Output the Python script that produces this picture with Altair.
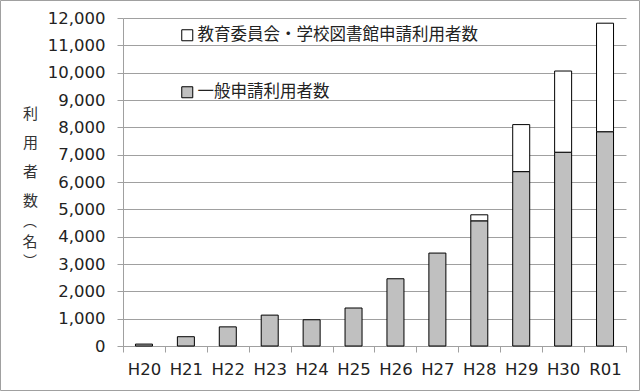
import altair as alt
import pandas as pd

years = ["H20", "H21", "H22", "H23", "H24", "H25", "H26", "H27", "H28", "H29", "H30", "R01"]
general = [70, 340, 700, 1130, 960, 1390, 2460, 3400, 4580, 6380, 7090, 7840]
edu = [0, 0, 0, 0, 0, 0, 0, 0, 220, 1720, 2970, 3970]

s_edu = "教育委員会・学校図書館申請利用者数"
s_gen = "一般申請利用者数"
title_main = ["利", "用", "者", "数"]
title_unit = ["︵", "名", "︶"]

rows = []
for y, g, e in zip(years, general, edu):
    rows.append({"year": y, "series": s_gen, "value": g, "ord": 0})
    if e > 0:
        rows.append({"year": y, "series": s_edu, "value": e, "ord": 1})
df = pd.DataFrame(rows)

num_font = "Verdana, DejaVu Sans"
jp_font = "Noto Sans CJK JP"

bars = alt.Chart(df).mark_bar(size=17, stroke="black", strokeWidth=1).encode(
    x=alt.X("year:N", sort=years, title=None,
            scale=alt.Scale(paddingInner=0, paddingOuter=0),
            axis=alt.Axis(labelAngle=0, tickBand="extent", tickSize=6,
                          tickColor="#A0A0A0", domainColor="#A0A0A0",
                          labelFont=num_font, labelFontSize=16.5, labelColor="#222222",
                          labelPadding=9, grid=False)),
    y=alt.Y("value:Q", stack="zero",
            scale=alt.Scale(domain=[0, 12000], nice=False),
            title=title_main,
            axis=alt.Axis(values=list(range(0, 12001, 1000)), format=",d",
                          tickSize=6, tickColor="#A0A0A0", domainColor="#A0A0A0",
                          gridColor="#A0A0A0", labelFont=num_font, labelFontSize=16.5,
                          labelColor="#222222", labelPadding=12,
                          titleAngle=0, titleX=-93, titleY=88, titleBaseline="top",
                          titleAlign="center", titleFont=jp_font, titleFontSize=15,
                          titleFontWeight="normal", titleLineHeight=29,
                          titleColor="#333333")),
    color=alt.Color("series:N",
                    scale=alt.Scale(domain=[s_edu, s_gen], range=["#FFFFFF", "#C0C0C0"]),
                    legend=alt.Legend(title=None, orient="none", legendX=56, legendY=9,
                                      direction="vertical", symbolType="square",
                                      symbolSize=121, symbolStrokeColor="black",
                                      symbolStrokeWidth=1, labelFont=jp_font,
                                      labelFontSize=16.5, labelColor="#222222",
                                      labelLimit=0, rowPadding=40, labelOffset=2)),
    order=alt.Order("ord:Q"),
)

unit_layers = []
for ch, yy, fs in zip(title_unit, [204, 224, 244], [14, 15, 14]):
    unit_layers.append(
        alt.Chart(alt.Data(values=[{}])).mark_text(
            text=ch, font=jp_font, fontSize=fs,
            align="center", baseline="middle", color="#333333"
        ).encode(x=alt.value(-93), y=alt.value(yy))
    )

border = alt.Chart(alt.Data(values=[{}])).mark_rect(
    fill=None, stroke="#A0A0A0", strokeWidth=1
).encode(
    x=alt.value(-122.5), x2=alt.value(516.5),
    y=alt.value(-17.5), y2=alt.value(372.5),
)

chart = alt.layer(bars, *unit_layers, border).properties(
    width=503, height=328,
    padding={"left": 123, "top": 18, "right": 14, "bottom": 45},
    autosize=alt.AutoSizeParams(type="none"),
    background="white",
).configure_view(stroke=None)

chart.save("out.html", embed_options={"renderer": "svg", "actions": False})
